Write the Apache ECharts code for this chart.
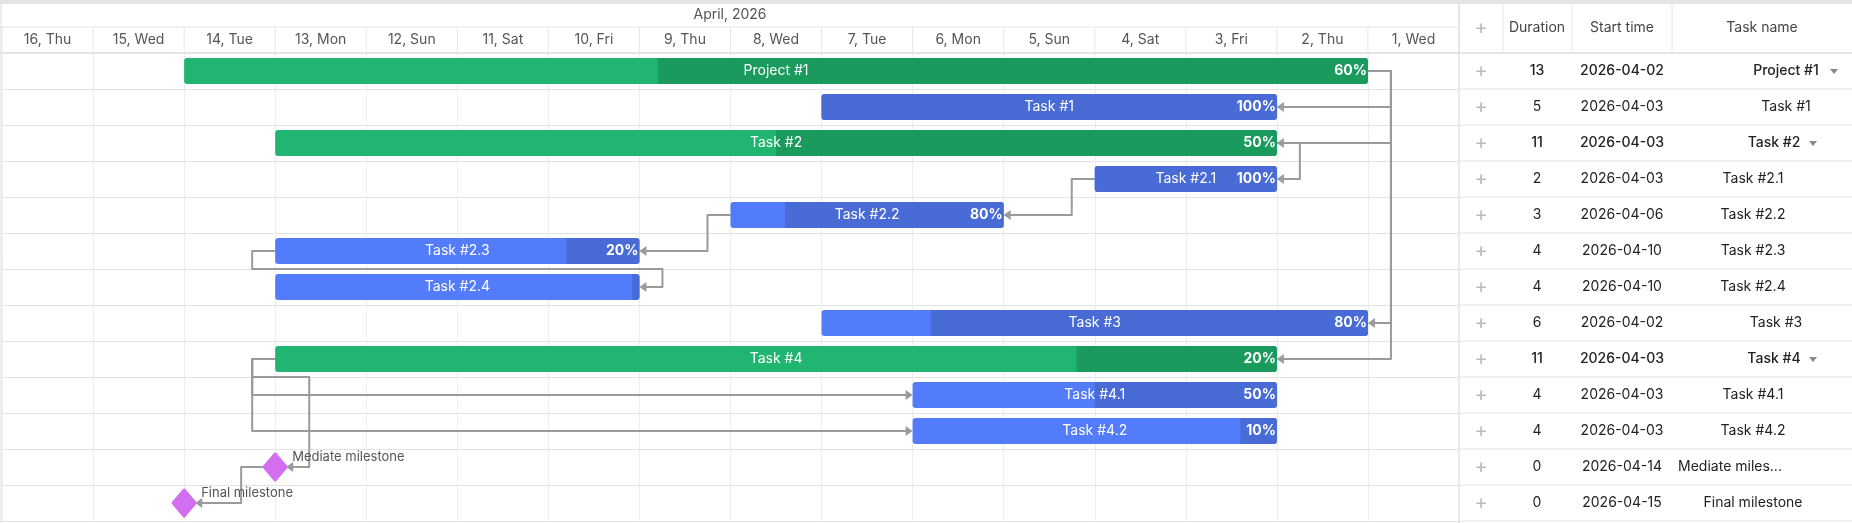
<!DOCTYPE html>
<html><head><meta charset="utf-8">
<script src="https://cdn.jsdelivr.net/npm/echarts@6/dist/echarts.min.js"></script>
<style>html,body{margin:0;padding:0;background:#fff}#c{width:1852px;height:523px}</style>
</head><body><div id="c"></div>
<script>
// ---- data ----
const names = ['Project #1','Task #1','Task #2','Task #2.1','Task #2.2','Task #2.3','Task #2.4','Task #3','Task #4','Task #4.1','Task #4.2','Mediate milestone','Final milestone'];
const tableNames = ['Project #1','Task #1','Task #2','Task #2.1','Task #2.2','Task #2.3','Task #2.4','Task #3','Task #4','Task #4.1','Task #4.2','Mediate miles...','Final milestone'];
const startDates = ['2026-04-02','2026-04-03','2026-04-03','2026-04-03','2026-04-06','2026-04-10','2026-04-10','2026-04-02','2026-04-03','2026-04-03','2026-04-03','2026-04-14','2026-04-15'];
const startDay = [2,3,3,3,6,10,10,2,3,3,3,14,15];
const durations = [13,5,11,2,3,4,4,6,11,4,4,0,0];
const progress = [0.6,1,0.5,1,0.8,0.2,0.02,0.8,0.2,0.5,0.1,0,0];
const kinds = ['parent','task','parent','task','task','task','task','task','parent','task','task','milestone','milestone'];
const dayLabels = ['1, Wed','2, Thu','3, Fri','4, Sat','5, Sun','6, Mon','7, Tue','8, Wed','9, Thu','10, Fri','11, Sat','12, Sun','13, Mon','14, Tue','15, Wed','16, Thu'];
const monthLabel = 'April, 2026';
// links: [from, to, fromSide, toSide]
const links = [[0,1,'start','start'],[0,2,'start','start'],[0,7,'start','start'],[0,8,'start','start'],
 [2,3,'start','start'],[3,4,'end','start'],[4,5,'end','start'],[5,6,'end','start'],
 [8,9,'end','end'],[8,10,'end','end'],[8,11,'end','start'],[11,12,'end','start']];
// ---- layout ----
const GL=2, GR=1459, TOP=53, ROWH=36, BARH=26, GAP=23, MH=13;
const nameCenters=[1786,1786,1774,1753,1753,1753,1753,1776,1774,1753,1753,1730,1753];
const C={gl:'#20b570',gd:'#1b9a5e',bl:'#527cf9',bd:'#486bd6',ms:'#d46ef0',link:'#9a9a9a'};
const FONT='Inter, "Noto Sans", sans-serif';
const chart=echarts.init(document.getElementById('c'));
const rowIdx=names.map((_,i)=>i);

function barRender(params,api){
  const i=api.value(0);
  const y=api.coord([1,i])[1];
  if(kinds[i]==='milestone'){
    const c=api.coord([startDay[i],i]);
    return {type:'group',children:[
      {type:'polygon',shape:{points:[[c[0],y-MH],[c[0]+MH*0.85,y],[c[0],y+MH],[c[0]-MH*0.85,y]]},style:{fill:C.ms,lineJoin:'round',stroke:C.ms,lineWidth:3}},
      {type:'text',x:c[0]+17,y:y-10,style:{text:names[i],fill:'#555',font:'13px '+FONT,verticalAlign:'middle'}}]};
  }
  const xr=api.coord([startDay[i],i])[0], xl=api.coord([startDay[i]+durations[i],i])[0];
  const w=xr-xl, par=kinds[i]==='parent';
  const pw=w*progress[i];
  const ch=[
    {type:'rect',shape:{x:xl,y:y-BARH/2,width:w,height:BARH,r:3},style:{fill:par?C.gl:C.bl}},
    {type:'rect',shape:{x:xr-pw,y:y-BARH/2,width:pw,height:BARH,r:pw>=w-3?3:[0,3,3,0]},style:{fill:par?C.gd:C.bd}},
    {type:'text',x:xl+w/2,y:y,style:{text:names[i],fill:'#fff',font:'14px '+FONT,align:'center',verticalAlign:'middle'}}];
  if(progress[i]>=0.05) ch.push({type:'text',x:xr-1,y:y,style:{text:Math.round(progress[i]*100)+'%',fill:'#fff',font:'bold 14px '+FONT,align:'right',verticalAlign:'middle'}});
  return {type:'group',children:ch};
}
function anchor(api,i,side){
  const y=api.coord([1,i])[1];
  if(kinds[i]==='milestone'){const x=api.coord([startDay[i],i])[0];return [side==='start'?x+MH*0.85:x-MH*0.85,y];}
  const d=side==='start'?startDay[i]:startDay[i]+durations[i];
  return [api.coord([d,i])[0],y];
}
function linkRender(params,api){
  const k=api.value(0), L=links[k];
  const a=anchor(api,L[0],L[2]), b=anchor(api,L[1],L[3]);
  let pts;
  if(L[2]==='start'&&L[3]==='start'){const x1=Math.max(a[0],b[0])+GAP;pts=[a,[x1,a[1]],[x1,b[1]],b];}
  else if(L[2]==='end'&&L[3]==='end'){const x1=Math.min(a[0],b[0])-GAP;pts=[a,[x1,a[1]],[x1,b[1]],b];}
  else { const xe=a[0]-GAP;
    if(b[0]+GAP<=xe) pts=[a,[xe,a[1]],[xe,b[1]],b];
    else {const ym=a[1]+ROWH/2;pts=[a,[xe,a[1]],[xe,ym],[b[0]+GAP,ym],[b[0]+GAP,b[1]],b];}
  }
  const left=L[3]==='start', tip=b, s=7;
  const head=left?[[tip[0],tip[1]],[tip[0]+s,tip[1]-s*0.7],[tip[0]+s,tip[1]+s*0.7]]:[[tip[0],tip[1]],[tip[0]-s,tip[1]-s*0.7],[tip[0]-s,tip[1]+s*0.7]];
  const end=pts.length-1; pts[end]=[left?tip[0]+s-1:tip[0]-s+1,tip[1]];
  return {type:'group',children:[
    {type:'polyline',shape:{points:pts},style:{stroke:C.link,lineWidth:2,fill:null,lineJoin:'round'}},
    {type:'polygon',shape:{points:head},style:{fill:C.link}}]};
}
function headerRender(params,api){
  const d=api.value(0);
  const x=api.coord([d+0.5,0])[0];
  return {type:'text',x:x,y:40,style:{text:dayLabels[d-1],fill:'#555',font:'14px '+FONT,align:'center',verticalAlign:'middle'}};
}
// table graphics
const g=[];
g.push({type:'rect',shape:{x:0,y:0,width:1852,height:4},style:{fill:'#e4e4e4'}});
g.push({type:'line',shape:{x1:0,y1:27,x2:GR,y2:27},style:{stroke:'#e6e6e6',lineWidth:1}});
g.push({type:'line',shape:{x1:0,y1:TOP,x2:1852,y2:TOP},style:{stroke:'#dcdcdc',lineWidth:1.5}});
g.push({type:'line',shape:{x1:GR,y1:4,x2:GR,y2:523},style:{stroke:'#dcdcdc',lineWidth:1.5}});
g.push({type:'line',shape:{x1:1,y1:4,x2:1,y2:523},style:{stroke:'#dcdcdc',lineWidth:1}});
[1503,1572,1672].forEach(x=>g.push({type:'line',shape:{x1:x,y1:4,x2:x,y2:TOP},style:{stroke:'#e6e6e6',lineWidth:1}}));
g.push({type:'text',x:730,y:15,style:{text:monthLabel,fill:'#555',font:'14px '+FONT,align:'center',verticalAlign:'middle'}});
const hy=28;
g.push({type:'text',x:1481,y:hy,style:{text:'+',fill:'#bbb',font:'20px '+FONT,align:'center',verticalAlign:'middle'}});
g.push({type:'text',x:1537,y:hy,style:{text:'Duration',fill:'#444',font:'14px '+FONT,align:'center',verticalAlign:'middle'}});
g.push({type:'text',x:1622,y:hy,style:{text:'Start time',fill:'#444',font:'14px '+FONT,align:'center',verticalAlign:'middle'}});
g.push({type:'text',x:1762,y:hy,style:{text:'Task name',fill:'#444',font:'14px '+FONT,align:'center',verticalAlign:'middle'}});
names.forEach((n,i)=>{
  const y=TOP+ROWH*i+ROWH/2, par=kinds[i]==='parent';
  const f=(par?'500 ':'')+'14px '+FONT;
  g.push({type:'line',shape:{x1:GR,y1:TOP+ROWH*(i+1),x2:1852,y2:TOP+ROWH*(i+1)},style:{stroke:'#e3e3e3',lineWidth:1}});
  g.push({type:'text',x:1481,y:y,style:{text:'+',fill:'#bbb',font:'20px '+FONT,align:'center',verticalAlign:'middle'}});
  g.push({type:'text',x:1537,y:y,style:{text:String(durations[i]),fill:'#222',font:f,align:'center',verticalAlign:'middle'}});
  g.push({type:'text',x:1622,y:y,style:{text:startDates[i],fill:'#222',font:f,align:'center',verticalAlign:'middle'}});
  g.push({type:'text',x:nameCenters[i],y:y,style:{text:tableNames[i],fill:'#222',font:f,align:'center',verticalAlign:'middle'}});
  if(par){const tx=i===0?1834:1813;g.push({type:'polygon',shape:{points:[[tx-4,y-2],[tx+4,y-2],[tx,y+3]]},style:{fill:'#888'}});}
});
chart.setOption({
  animation:false,
  grid:{left:GL,top:TOP,width:GR-GL,height:ROWH*names.length},
  xAxis:{type:'value',min:1,max:17,interval:1,inverse:true,position:'top',axisLabel:{show:false},axisTick:{show:false},axisLine:{show:false},
    splitLine:{show:true,lineStyle:{color:'#ededed'}}},
  yAxis:{type:'category',data:rowIdx,inverse:true,axisLabel:{show:false},axisTick:{show:false},axisLine:{show:false},
    splitLine:{show:true,lineStyle:{color:'#e3e3e3'}}},
  graphic:g,
  series:[
    {type:'custom',renderItem:headerRender,data:dayLabels.map((_,i)=>[i+1]),clip:false,silent:true},
    {type:'custom',renderItem:function(p,api){const d=api.value(0);const x=api.coord([d,0])[0];return {type:'line',shape:{x1:x,y1:27,x2:x,y2:TOP},style:{stroke:'#e6e6e6'}};},data:dayLabels.map((_,i)=>[i+2]),clip:false,silent:true},
    {type:'custom',renderItem:linkRender,data:links.map((_,k)=>[k]),clip:false,silent:true,z:3},
    {type:'custom',renderItem:barRender,data:rowIdx.map(i=>[i]),clip:false,silent:true,z:4}
  ]
});
</script></body></html>
